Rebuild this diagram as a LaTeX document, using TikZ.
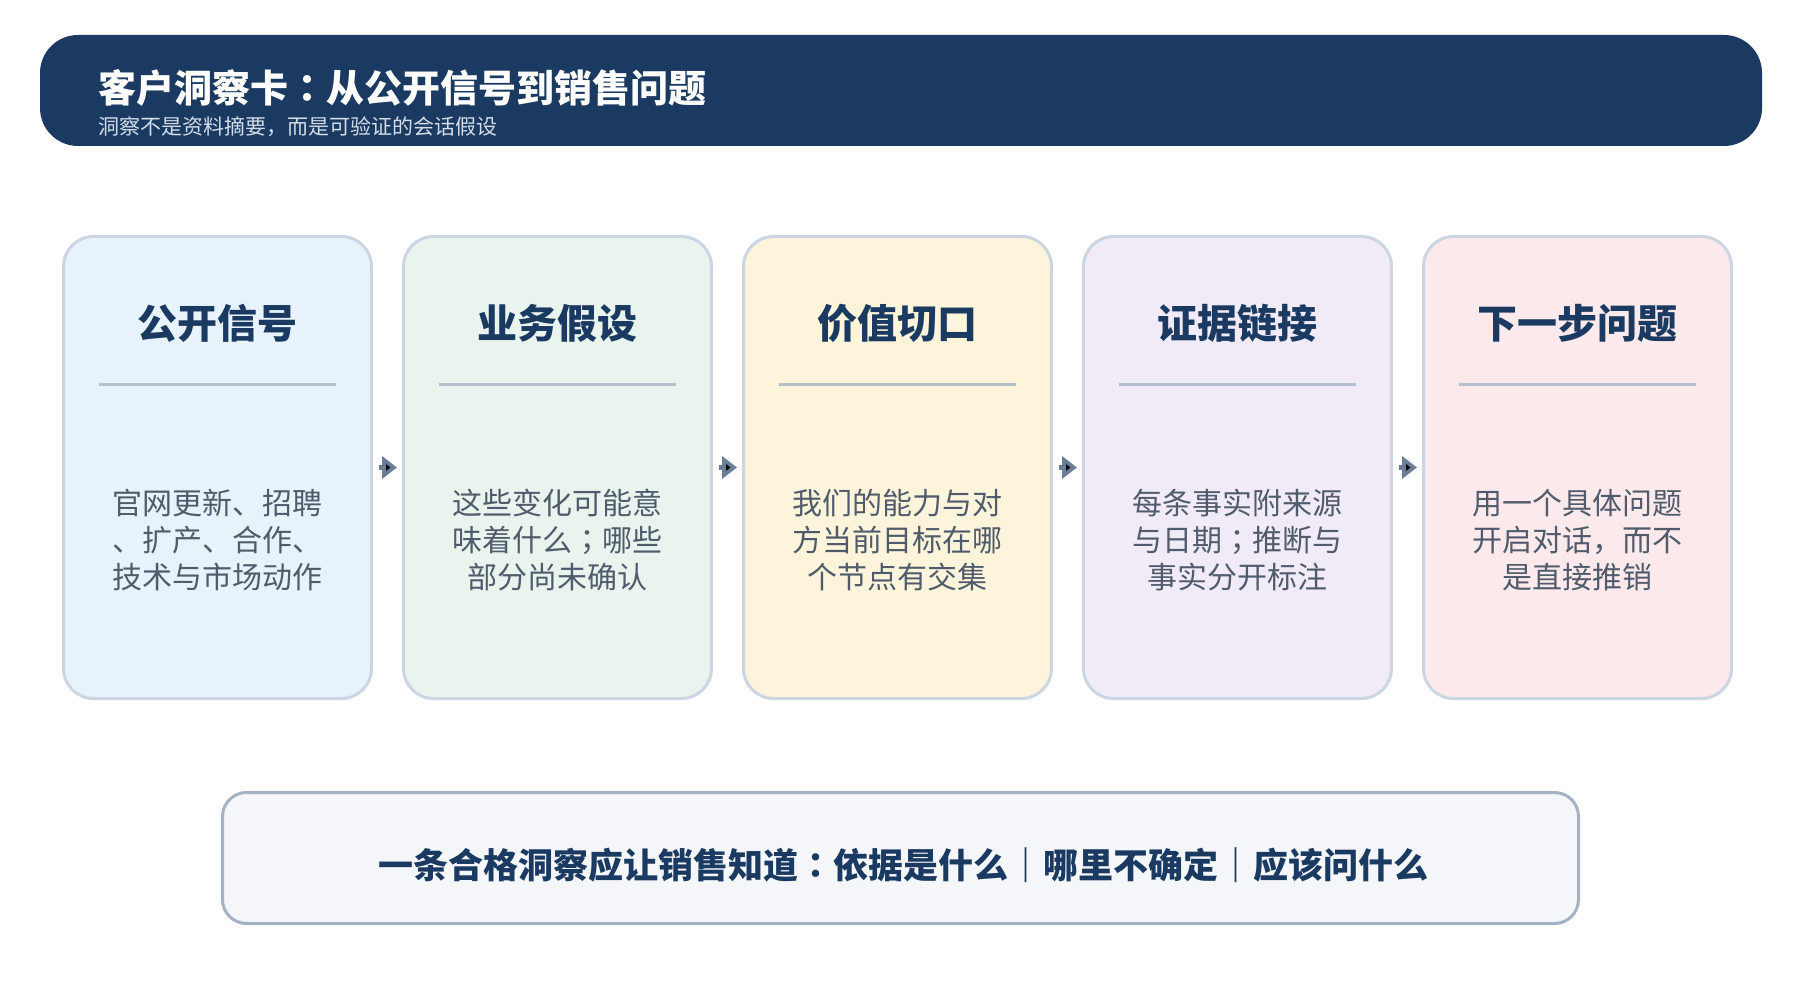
\documentclass[tikz,border=0pt]{standalone}
\usepackage{fontspec}
\newfontfamily\cjk{Noto Sans CJK SC}
\newfontfamily\cjkjp{Noto Sans CJK JP}
\newcommand{\jpcolon}{{\cjkjp ：}}
\newcommand{\jpsemi}{{\cjkjp ；}}
\usetikzlibrary{positioning,arrows.meta}
\definecolor{navy}{HTML}{1B3A61}
\definecolor{subtxt}{HTML}{D3DDE9}
\definecolor{bodytxt}{HTML}{505C6C}
\definecolor{cardline}{HTML}{CCD6E2}
\definecolor{ruleline}{HTML}{B5C0CF}
\definecolor{arrowc}{HTML}{6B7E98}
\definecolor{fillA}{HTML}{E8F2FB}
\definecolor{fillB}{HTML}{EAF4EE}
\definecolor{fillC}{HTML}{FDF4DB}
\definecolor{fillD}{HTML}{F1EBF8}
\definecolor{fillE}{HTML}{FBE9EB}
\definecolor{notefill}{HTML}{F4F6FA}
\definecolor{noteline}{HTML}{A4B2C3}

\begin{document}
\begin{tikzpicture}[x=1pt,y=-1pt,node distance=29pt,
    card/.style={rectangle,draw=cardline,line width=3pt,rounded corners=30pt,minimum width=308pt,minimum height=462pt,inner sep=0pt},
    head/.style={font=\cjk\bfseries\fontsize{40}{46}\selectfont,text=navy},
    body/.style={font=\cjk\fontsize{30}{37}\selectfont,text=bodytxt,align=center},
    rule/.style={draw=ruleline,line width=3pt},
    flow/.style={-{Triangle[length=15pt,width=22pt]},draw=arrowc,line width=5pt,shorten <=6pt,shorten >=5pt}]
    \useasboundingbox (0,0) rectangle (1800,1000);

    % title bar
    \node[fill=navy,rounded corners=38pt,minimum width=1722pt,minimum height=111pt,inner sep=0pt] (bar) at (901,90.5) {};
    \node[anchor=west,inner sep=0pt,text=white,font=\cjk\bfseries\fontsize{38}{43}\selectfont] (title) at (98,88) {客户洞察卡\jpcolon 从公开信号到销售问题};
    \node[anchor=west,inner sep=0pt,text=subtxt,font=\cjk\fontsize{21}{25}\selectfont] (sub) at (98,127) {洞察不是资料摘要，而是可验证的会话假设};

    % cards
    \node[card,fill=fillA] (1) at (217.5,467.5) {};
    \node[card,fill=fillB] (2) [right=of 1] {};
    \node[card,fill=fillC] (3) [right=of 2] {};
    \node[card,fill=fillD] (4) [right=of 3] {};
    \node[card,fill=fillE] (5) [right=of 4] {};

    \node[head] (h1) at ([yshift=144pt]1.center) {公开信号};
    \node[head] (h2) at ([yshift=144pt]2.center) {业务假设};
    \node[head] (h3) at ([yshift=144pt]3.center) {价值切口};
    \node[head] (h4) at ([yshift=144pt]4.center) {证据链接};
    \node[head] (h5) at ([yshift=144pt]5.center) {下一步问题};

    \draw[rule] ([xshift=-118.5pt,yshift=82.5pt]1.center) -- ([xshift=118.5pt,yshift=82.5pt]1.center);
    \draw[rule] ([xshift=-118.5pt,yshift=82.5pt]2.center) -- ([xshift=118.5pt,yshift=82.5pt]2.center);
    \draw[rule] ([xshift=-118.5pt,yshift=82.5pt]3.center) -- ([xshift=118.5pt,yshift=82.5pt]3.center);
    \draw[rule] ([xshift=-118.5pt,yshift=82.5pt]4.center) -- ([xshift=118.5pt,yshift=82.5pt]4.center);
    \draw[rule] ([xshift=-118.5pt,yshift=82.5pt]5.center) -- ([xshift=118.5pt,yshift=82.5pt]5.center);

    \node[body] (b1) at ([yshift=-72.5pt]1.center) {官网更新、招聘\\、扩产、合作、\\技术与市场动作};
    \node[body] (b2) at ([yshift=-72.5pt]2.center) {这些变化可能意\\味着什么\jpsemi 哪些\\部分尚未确认};
    \node[body] (b3) at ([yshift=-72.5pt]3.center) {我们的能力与对\\方当前目标在哪\\个节点有交集};
    \node[body] (b4) at ([yshift=-72.5pt]4.center) {每条事实附来源\\与日期\jpsemi 推断与\\事实分开标注};
    \node[body] (b5) at ([yshift=-72.5pt]5.center) {用一个具体问题\\开启对话，而不\\是直接推销};

    \path[flow]
        (1) edge (2)
        (2) edge (3)
        (3) edge (4)
        (4) edge (5)
        ;

    % takeaway
    \node[draw=noteline,fill=notefill,line width=3pt,rounded corners=24pt,minimum width=1356pt,minimum height=131pt,inner sep=0pt] (note) at (900.5,858) {};
    \node[text=navy,font=\cjk\bfseries\fontsize{35}{41}\selectfont] (msg) at (903,865) {一条合格洞察应让销售知道\jpcolon 依据是什么｜哪里不确定｜应该问什么};
\end{tikzpicture}
\end{document}
